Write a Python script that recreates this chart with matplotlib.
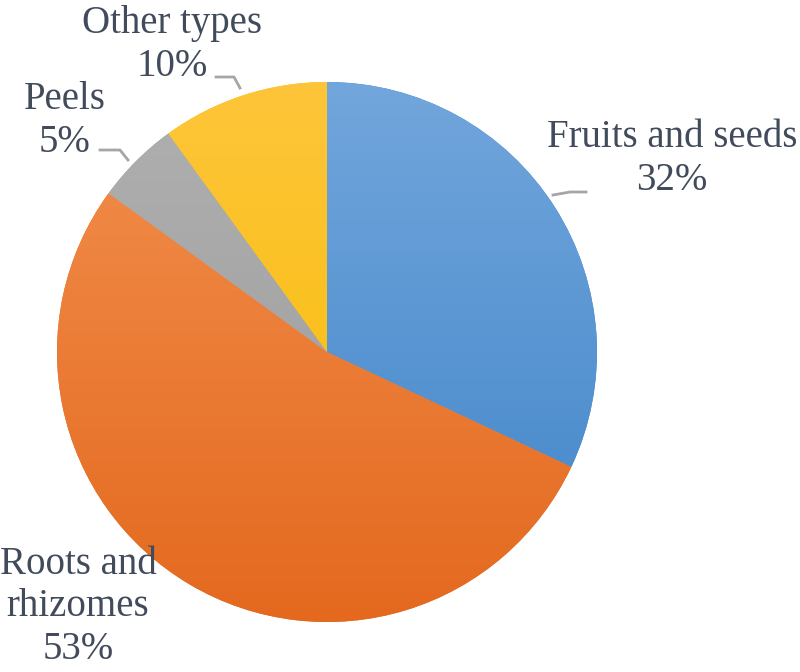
import numpy as np
import matplotlib
matplotlib.use('Agg')
import matplotlib.pyplot as plt
from matplotlib.colors import LinearSegmentedColormap
from matplotlib.font_manager import FontProperties, findfont

labels = ['Fruits and seeds', 'Roots and\nrhizomes', 'Peels', 'Other types']
values = [32, 53, 5, 10]
top_colors = ['#72a6dc', '#f2904e', '#b0b0b0', '#fec53a']
bottom_colors = ['#3f84c8', '#e4691f', '#9a9a9a', '#f6bc00']

serif_path = findfont(FontProperties(family='Liberation Serif'))
font = FontProperties(fname=serif_path, size=28)

fig = plt.figure(figsize=(8, 6.72), dpi=100)
ax = fig.add_axes([0, 0, 1, 1])

cx, cy, r = 327, 320, 270
wedges, _ = ax.pie(values, startangle=90, counterclock=False,
                   center=(cx, cy), radius=r, colors=bottom_colors,
                   wedgeprops=dict(linewidth=0), frame=True)

# vertical gradient inside each slice
grad = np.linspace(0, 1, 256).reshape(-1, 1)
for w, c0, c1 in zip(wedges, top_colors, bottom_colors):
    cmap = LinearSegmentedColormap.from_list('g', [c1, c0])
    im = ax.imshow(grad, cmap=cmap, origin='lower', aspect='auto',
                   extent=(cx - r, cx + r, cy - r, cy + r), zorder=2)
    im.set_clip_path(w)

ax.set_xlim(0, 800)
ax.set_ylim(0, 672)
ax.set_aspect('equal')
ax.axis('off')

txt = dict(fontproperties=font, color='#414b5c', ha='center', va='center',
           linespacing=1.2)
pct = ['%d%%' % v for v in values]
ax.text(672, 672 - 159, labels[0] + '\n' + pct[0], **txt)
ax.text(78, 672 - 607, labels[1] + '\n' + pct[1], **txt)
ax.text(65, 672 - 121, labels[2] + '\n' + pct[2], **txt)
ax.text(172, 672 - 45, labels[3] + '\n' + pct[3], **txt)

# leader lines
lc = dict(color='#a6a6a6', lw=2, zorder=3)
ax.plot([553, 570, 586], [672 - 195, 672 - 192, 672 - 192], **lc)
ax.plot([216, 234, 240], [672 - 77, 672 - 77, 672 - 88], **lc)
ax.plot([100, 120, 128], [672 - 150, 672 - 150, 672 - 160], **lc)

fig.savefig('out.png', dpi=100)
